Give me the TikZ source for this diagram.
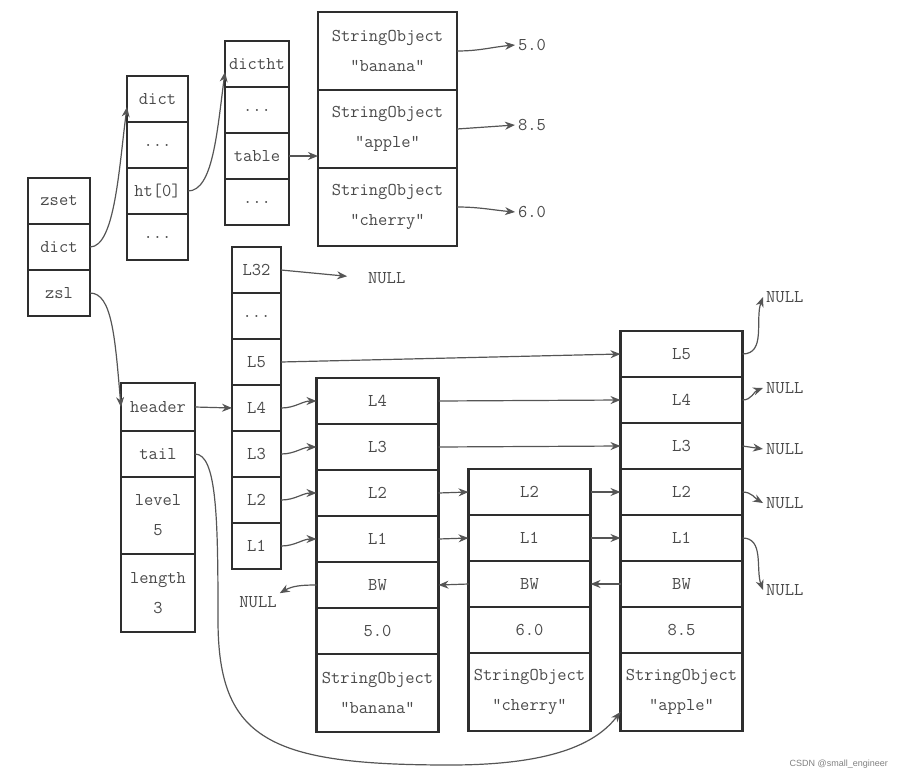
\documentclass[tikz,border=0pt]{standalone}
\usepackage{fontspec}
\setsansfont{Liberation Sans}
\usepackage{tikz}
\usetikzlibrary{arrows.meta, positioning}
\definecolor{boxgray}{HTML}{2E2E2E}
\definecolor{txtgray}{HTML}{4A4A4A}
\definecolor{arrgray}{HTML}{555555}

\begin{document}
\begin{tikzpicture}[
        x=1pt, y=-1pt,
        cell/.style={draw=boxgray, line width=2.6pt, minimum width=#1, minimum height=46pt,
            inner sep=0pt, outer sep=0pt, align=center, text=txtgray,
            font=\ttfamily\fontsize{18}{30}\selectfont},
        cell/.default=122pt,
        tall/.style={minimum height=78pt},
        lab/.style={text=txtgray, inner sep=3pt, font=\ttfamily\fontsize{18}{18}\selectfont},
        ptr/.style={draw=arrgray, line width=1.2pt, -{Stealth[length=10pt,width=8pt]}}
    ]
    \useasboundingbox (0,0) rectangle (904,779);
    % zset
    \node[cell=62pt, anchor=north] (zset) at (59,178) {zset};
    \node[cell=62pt, below=0pt of zset] (zdict) {dict};
    \node[cell=62pt, below=0pt of zdict] (zsl) {zsl};
    % dict
    \node[cell=61pt, anchor=north] (d) at (157.5,76) {dict};
    \node[cell=61pt, below=0pt of d] (ddots1) {...};
    \node[cell=61pt, below=0pt of ddots1] (ht) {ht[0]};
    \node[cell=61pt, below=0pt of ht] (ddots2) {...};
    % dictht
    \node[cell=64pt, anchor=north] (dt) at (257,41) {dictht};
    \node[cell=64pt, below=0pt of dt] (dtdots1) {...};
    \node[cell=64pt, below=0pt of dtdots1] (table) {table};
    \node[cell=64pt, below=0pt of table] (dtdots2) {...};
    % hash table entries
    \node[cell=139pt, tall, anchor=north] (so1) at (387.5,12) {StringObject\\"banana"};
    \node[cell=139pt, tall, below=0pt of so1] (so2) {StringObject\\"apple"};
    \node[cell=139pt, tall, below=0pt of so2] (so3) {StringObject\\"cherry"};
    \node[lab, anchor=west] (v50) at (515,45) {5.0};
    \node[lab, anchor=west] (v85) at (515,125) {8.5};
    \node[lab, anchor=west] (v60) at (515,212) {6.0};
    % zskiplist
    \node[cell=74pt, minimum height=48pt, anchor=north] (header) at (158,383) {header};
    \node[cell=74pt, below=0pt of header] (tail) {tail};
    \node[cell=74pt, minimum height=77pt, below=0pt of tail] (level) {level\\5};
    \node[cell=74pt, tall, below=0pt of level] (length) {length\\3};
    % header levels
    \node[cell=49pt, anchor=north] (hL32) at (256.5,247) {L32};
    \node[cell=49pt, below=0pt of hL32] (hdots) {...};
    \node[cell=49pt, below=0pt of hdots] (hL5) {L5};
    \node[cell=49pt, below=0pt of hL5] (hL4) {L4};
    \node[cell=49pt, below=0pt of hL4] (hL3) {L3};
    \node[cell=49pt, below=0pt of hL3] (hL2) {L2};
    \node[cell=49pt, below=0pt of hL2] (hL1) {L1};
    \node[lab, anchor=west] (null32) at (365,278) {NULL};
    % banana
    \node[cell, anchor=north] (bL4) at (377.5,378) {L4};
    \node[cell, below=0pt of bL4] (bL3) {L3};
    \node[cell, below=0pt of bL3] (bL2) {L2};
    \node[cell, below=0pt of bL2] (bL1) {L1};
    \node[cell, below=0pt of bL1] (bBW) {BW};
    \node[cell, below=0pt of bBW] (bval) {5.0};
    \node[cell, tall, below=0pt of bval] (bSO) {StringObject\\"banana"};
    % cherry
    \node[cell, anchor=north] (cL2) at (529.5,469) {L2};
    \node[cell, below=0pt of cL2] (cL1) {L1};
    \node[cell, below=0pt of cL1] (cBW) {BW};
    \node[cell, below=0pt of cBW] (cval) {6.0};
    \node[cell, tall, below=0pt of cval] (cSO) {StringObject\\"cherry"};
    % apple
    \node[cell, anchor=north] (aL5) at (681.5,331) {L5};
    \node[cell, below=0pt of aL5] (aL4) {L4};
    \node[cell, below=0pt of aL4] (aL3) {L3};
    \node[cell, below=0pt of aL3] (aL2) {L2};
    \node[cell, below=0pt of aL2] (aL1) {L1};
    \node[cell, below=0pt of aL1] (aBW) {BW};
    \node[cell, below=0pt of aBW] (aval) {8.5};
    \node[cell, tall, below=0pt of aval] (aSO) {StringObject\\"apple"};
    % NULL ends
    \node[lab] (nullbw) at (258,602) {NULL};
    \node[lab, anchor=west] (nl5) at (763,297) {NULL};
    \node[lab, anchor=west] (nl4) at (763,388) {NULL};
    \node[lab, anchor=west] (nl3) at (763,449) {NULL};
    \node[lab, anchor=west] (nl2) at (763,503) {NULL};
    \node[lab, anchor=west] (nl1) at (763,590) {NULL};
    \node[anchor=east, inner sep=0pt, text=gray, font=\sffamily\fontsize{9}{9}\selectfont] (mark) at (888,764) {CSDN @small\_engineer};

    \draw[ptr] (zdict.east) .. controls +(25,0) and +(-8,60) .. ([yshift=-8pt]d.west);
    \draw[ptr] (ht.east) .. controls +(25,0) and +(-8,60) .. ([yshift=-8pt]dt.west);
    \draw[ptr] (table.east) -- (table -| so2.west);
    \draw[ptr] (so1.east) to[out=0,in=185] (v50.west);
    \draw[ptr] (so2.east) -- (v85.west);
    \draw[ptr] (so3.east) to[out=0,in=175] (v60.west);
    \draw[ptr] (zsl.east) .. controls +(22,0) and +(-6,-70) .. (header.west);
    \draw[ptr] (header.east) -- (hL4.west);
    \draw[ptr, shorten >=18pt] (hL32.east) -- (null32.west);
    \draw[ptr] (hL5.east) -- (aL5.west);
    \draw[ptr] (hL4.east) to[out=0,in=180] (bL4.west);
    \draw[ptr] (hL3.east) to[out=0,in=180] (bL3.west);
    \draw[ptr] (hL2.east) to[out=0,in=180] (bL2.west);
    \draw[ptr] (hL1.east) to[out=0,in=180] (bL1.west);
    \draw[ptr] (bL4.east) -- (aL4.west);
    \draw[ptr] (bL3.east) -- (aL3.west);
    \draw[ptr] (bL2.east) -- (cL2.west);
    \draw[ptr] (cL2.east) -- (aL2.west);
    \draw[ptr] (bL1.east) -- (cL1.west);
    \draw[ptr] (cL1.east) -- (aL1.west);
    \draw[ptr] (aBW.west) -- (cBW.east);
    \draw[ptr] (cBW.west) -- (bBW.east);
    \draw[ptr] (bBW.west) to[out=180,in=30] (nullbw.north east);
    \draw[ptr] (aL5.east) to[out=0,in=-110] (nl5.west);
    \draw[ptr] (aL4.east) to[out=0,in=200] (nl4.west);
    \draw[ptr] (aL3.east) -- (nl3.west);
    \draw[ptr] (aL2.east) to[out=0,in=150] (nl2.west);
    \draw[ptr] (aL1.east) to[out=0,in=110] (nl1.west);
    \coordinate (tdown) at (218,620);
    \coordinate (tlow) at (450,765);
    \draw[ptr] (tail.east) .. controls +(22,0) and +(0,-100) .. (tdown)
        .. controls +(0,120) and +(-180,0) .. (tlow)
        .. controls +(110,0) and +(-22,28) .. ([yshift=-20pt]aSO.west);
\end{tikzpicture}
\end{document}
